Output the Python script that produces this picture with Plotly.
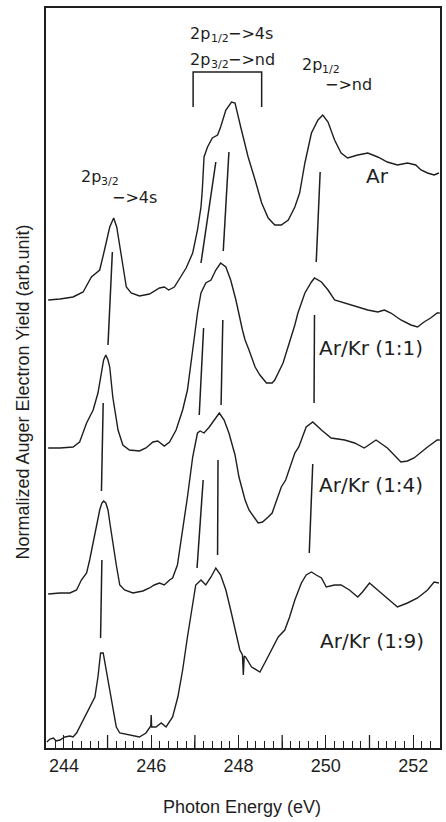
import plotly.graph_objects as go

# Photon energy (eV) and normalized Auger electron yield (arb. unit, stacked offsets)
ar_energy = [243.64, 243.91, 244.21, 244.44, 244.63, 244.82, 244.93, 245.05, 245.14, 245.21,
             245.32, 245.43, 245.54, 245.73, 245.96, 246.19, 246.30, 246.40, 246.53, 246.64,
             246.80, 246.95, 247.06, 247.14, 247.17, 247.21, 247.29, 247.40, 247.52, 247.59,
             247.71, 247.84, 247.92, 248.05, 248.22, 248.38, 248.53, 248.68, 248.83, 248.98,
             249.14, 249.29, 249.40, 249.52, 249.67, 249.82, 249.93, 250.05, 250.20, 250.35,
             250.50, 250.73, 250.96, 251.19, 251.41, 251.64, 251.87, 252.06, 252.18, 252.33,
             252.48, 252.59]
ar_yield = [448, 449, 451, 456, 471, 478, 498, 521, 530, 521,
            491, 461, 455, 452, 454, 460, 461, 458, 461, 469,
            480, 495, 518, 541, 558, 591, 601, 610, 613, 621,
            638, 646, 645, 621, 591, 568, 545, 530, 523, 523,
            528, 541, 555, 585, 615, 628, 633, 626, 608, 595,
            590, 593, 595, 591, 586, 583, 585, 583, 578, 575,
            573, 575]

mix11_energy = [243.64, 243.91, 244.21, 244.36, 244.52, 244.67, 244.78, 244.86, 244.91, 244.96,
                245.01, 245.05, 245.12, 245.24, 245.35, 245.50, 245.73, 245.88, 246.04, 246.15,
                246.30, 246.42, 246.57, 246.72, 246.83, 246.95, 247.06, 247.14, 247.25, 247.37,
                247.48, 247.59, 247.71, 247.82, 247.94, 248.09, 248.15, 248.24, 248.38, 248.49,
                248.64, 248.77, 248.83, 249.02, 249.17, 249.29, 249.36, 249.52, 249.67, 249.74,
                249.90, 250.05, 250.20, 250.43, 250.73, 250.96, 251.19, 251.34, 251.49, 251.72,
                251.95, 252.10, 252.25, 252.40, 252.55, 252.61]
mix11_yield = [300, 300, 301, 306, 325, 338, 355, 373, 388, 393,
               388, 381, 351, 318, 303, 298, 297, 300, 306, 307,
               302, 306, 318, 338, 358, 398, 435, 455, 465, 468,
               478, 485, 481, 468, 448, 418, 408, 398, 381, 373,
               365, 365, 368, 385, 405, 423, 435, 455, 466, 470,
               466, 458, 448, 445, 441, 438, 436, 438, 435, 428,
               423, 421, 426, 430, 435, 435]

mix14_energy = [243.64, 243.91, 244.14, 244.29, 244.40, 244.52, 244.59, 244.67, 244.74, 244.82,
                244.87, 244.91, 244.96, 245.01, 245.06, 245.12, 245.20, 245.28, 245.39, 245.58,
                245.73, 245.81, 245.96, 246.07, 246.19, 246.30, 246.42, 246.49, 246.60, 246.72,
                246.83, 246.95, 247.06, 247.12, 247.21, 247.33, 247.44, 247.56, 247.67, 247.78,
                247.92, 248.01, 248.15, 248.24, 248.45, 248.55, 248.68, 248.77, 248.98, 249.08,
                249.29, 249.38, 249.55, 249.70, 249.90, 250.12, 250.43, 250.66, 250.88, 251.15,
                251.41, 251.72, 251.87, 252.02, 252.33, 252.55, 252.61]
mix14_yield = [154, 155, 155, 158, 168, 175, 188, 205, 223, 238,
               245, 247, 245, 238, 223, 205, 183, 163, 158, 155,
               156, 157, 160, 163, 165, 163, 168, 170, 183, 218,
               251, 291, 315, 317, 315, 321, 328, 335, 328, 315,
               293, 271, 248, 238, 225, 226, 231, 235, 261, 268,
               295, 301, 321, 326, 318, 310, 308, 305, 300, 308,
               300, 286, 287, 290, 301, 308, 308]

mix19_energy = [243.61, 243.68, 243.76, 243.82, 243.91, 244.02, 244.14, 244.21, 244.29, 244.44,
                244.59, 244.71, 244.78, 244.84, 244.90, 244.97, 245.09, 245.20, 245.28, 245.50,
                245.73, 245.88, 245.96, 245.99, 246.00, 246.01, 246.11, 246.23, 246.34, 246.49,
                246.61, 246.72, 246.83, 246.95, 247.02, 247.14, 247.25, 247.37, 247.48, 247.59,
                247.71, 247.82, 247.94, 248.03, 248.09, 248.11, 248.13, 248.16, 248.30, 248.42,
                248.49, 248.60, 248.76, 248.91, 249.06, 249.17, 249.29, 249.44, 249.55, 249.67,
                249.78, 249.90, 250.01, 250.20, 250.35, 250.54, 250.73, 250.84, 251.00, 251.19,
                251.41, 251.64, 251.87, 252.10, 252.33, 252.48, 252.59]
mix19_yield = [6, 9, 10, 7, 8, 11, 12, 11, 15, 28,
               41, 51, 71, 95, 95, 78, 45, 21, 15, 13,
               11, 15, 20, 22, 33, 21, 21, 25, 21, 31,
               51, 78, 111, 145, 163, 168, 163, 171, 180, 173,
               158, 138, 115, 98, 93, 73, 92, 91, 81, 78,
               76, 85, 98, 111, 118, 131, 148, 165, 173, 176,
               173, 170, 161, 163, 163, 158, 151, 156, 165, 158,
               150, 141, 145, 150, 158, 166, 165]

# Peak-position guide segments drawn between neighbouring spectra
guide_energy = [[245.11, 245.01], [244.90, 244.86], [244.87, 244.84],
                [247.48, 247.14], [247.78, 247.65],
                [247.20, 247.10], [247.64, 247.60],
                [247.19, 247.05], [247.53, 247.52],
                [249.87, 249.78], [249.74, 249.73], [249.70, 249.62]]
guide_yield = [[496, 403], [345, 257], [188, 110],
               [586, 485], [596, 497],
               [420, 333], [428, 343],
               [268, 180], [288, 193],
               [576, 486], [433, 345], [284, 195]]

# Bracket grouping the 2p1/2->4s / 2p3/2->nd features
bracket_energy = [246.96, 246.96, 248.53, 248.53]
bracket_yield = [641, 676, 676, 641]

labelled_ticks = [244, 246, 248, 250, 252]
unlabelled_ticks = [245, 247, 249, 251]

INK = "#1e1e1e"
fig = go.Figure()

for xs, ys in [(ar_energy, ar_yield), (mix11_energy, mix11_yield),
               (mix14_energy, mix14_yield), (mix19_energy, mix19_yield)]:
    fig.add_trace(go.Scatter(x=xs, y=ys, mode="lines",
                             line=dict(color=INK, width=1.4),
                             hoverinfo="skip", showlegend=False))

gx, gy = [], []
for xs, ys in zip(guide_energy, guide_yield):
    gx += xs + [None]
    gy += ys + [None]
fig.add_trace(go.Scatter(x=gx, y=gy, mode="lines", line=dict(color=INK, width=1.5),
                         hoverinfo="skip", showlegend=False))
fig.add_trace(go.Scatter(x=bracket_energy, y=bracket_yield, mode="lines",
                         line=dict(color=INK, width=1.5), hoverinfo="skip", showlegend=False))

# long ticks at the odd integer energies (no label)
for e in unlabelled_ticks:
    fig.add_shape(type="line", xref="x", yref="paper", x0=e, x1=e, y0=0, y1=13 / 740,
                  line=dict(color=INK, width=1.3))

LBL = dict(family="DejaVu Sans", size=20, color=INK)
SML = dict(family="DejaVu Sans", size=16, color=INK)
SUB = dict(family="DejaVu Sans", size=11, color=INK)


def note(text, x, y, font, anchor="left"):
    fig.add_annotation(x=x, y=y, xref="x", yref="y", text=text, showarrow=False,
                       xanchor=anchor, yanchor="middle", font=font)


def transition(level, sub, tail, x, y):
    # "2p" + small lowered j-subscript + optional "−>..." tail
    note(level, x, y, SML)
    note(sub, x + 0.463, y - 5, SUB)
    if tail:
        note(tail, x + 0.866, y, SML)


for text, x, y, anchor in [("Ar", 251.18, 572, "center"),
                           ("Ar/Kr (1:1)", 249.79, 400, "left"),
                           ("Ar/Kr (1:4)", 249.79, 263, "left"),
                           ("Ar/Kr (1:9)", 249.81, 107, "left")]:
    note(text, x, y, LBL, anchor)

transition("2p", "1/2", "−>4s", 246.85, 715)
transition("2p", "3/2", "−>nd", 246.85, 689)
transition("2p", "1/2", None, 249.40, 684)
note("−>nd", 249.93, 664, SML)
transition("2p", "3/2", None, 244.34, 572)
note("−>4s", 245.05, 551, SML)

fig.add_annotation(x=0.497, y=-0.08, xref="paper", yref="paper", text="Photon Energy (eV)",
                   showarrow=False, xanchor="center", yanchor="middle",
                   font=dict(family="Liberation Sans", size=18, color=INK))
fig.add_annotation(x=-0.057, y=0.481, xref="paper", yref="paper",
                   text="Normalized Auger Electron Yield (arb.unit)", textangle=-90,
                   showarrow=False, xanchor="center", yanchor="middle",
                   font=dict(family="Liberation Sans", size=18, color=INK))

fig.update_layout(
    width=446, height=822, autosize=False,
    margin=dict(l=46, r=4, t=8, b=74, pad=0),
    paper_bgcolor="white", plot_bgcolor="white",
    xaxis=dict(range=[243.59, 252.615], showgrid=False, zeroline=False,
               showline=True, linecolor=INK, linewidth=2, mirror=True,
               ticks="inside", ticklen=13, tickwidth=1.3, tickcolor=INK,
               tickmode="array", tickvals=labelled_ticks,
               tickfont=dict(family="Liberation Sans", size=18, color=INK),
               minor=dict(ticks="inside", ticklen=7, tickwidth=1.1, tickcolor=INK,
                          tickmode="linear", dtick=0.2, tick0=244, showgrid=False)),
    yaxis=dict(range=[0, 740], showgrid=False, zeroline=False, showticklabels=False,
               tickmode="array", tickvals=[], ticktext=[],
               showline=True, linecolor=INK, linewidth=2, mirror=True, ticks=""),
)

fig.write_html("out.html")
